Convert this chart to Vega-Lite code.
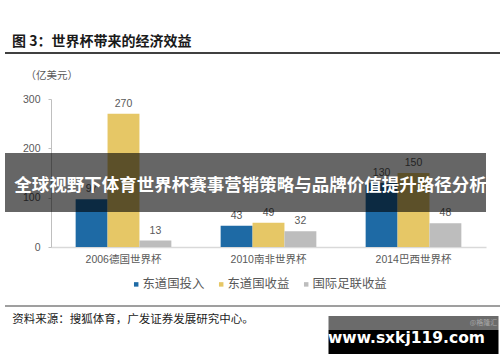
{
  "$schema": "https://vega.github.io/schema/vega-lite/v6.json",
  "padding": {"left": 4, "top": 35, "right": 0, "bottom": 0},
  "bounds": "flush",
  "spacing": 46,
  "background": "white",
  "title": {
    "text": "图 3：世界杯带来的经济效益",
    "anchor": "start",
    "dx": 8,
    "offset": 3,
    "fontSize": 14,
    "font": "Noto Sans CJK SC",
    "fontWeight": "bold",
    "color": "#1a1a1a"
  },
  "config": {"view": {"stroke": null}},
  "vconcat": [
    {
      "width": 496,
      "height": 1,
      "data": {"values": [{"line": "top"}]},
      "mark": {"type": "rule", "color": "#404040", "strokeWidth": 2},
      "encoding": {
        "y": {"datum": 0, "type": "quantitative", "scale": {"domain": [0, 1]}, "axis": null}
      }
    },
    {
      "width": 481,
      "height": 148,
      "data": {"values": [
        {"cup": "2006德国世界杯", "series": "东道国投入", "value": 97},
        {"cup": "2006德国世界杯", "series": "东道国收益", "value": 270},
        {"cup": "2006德国世界杯", "series": "国际足联收益", "value": 13},
        {"cup": "2010南非世界杯", "series": "东道国投入", "value": 43},
        {"cup": "2010南非世界杯", "series": "东道国收益", "value": 49},
        {"cup": "2010南非世界杯", "series": "国际足联收益", "value": 32},
        {"cup": "2014巴西世界杯", "series": "东道国投入", "value": 130},
        {"cup": "2014巴西世界杯", "series": "东道国收益", "value": 150},
        {"cup": "2014巴西世界杯", "series": "国际足联收益", "value": 48}
      ]},
      "layer": [
        {
          "mark": {"type": "bar"},
          "encoding": {
            "x": {"field": "cup", "type": "nominal", "sort": null,
              "scale": {"range": [46, 481], "paddingInner": 0.34, "paddingOuter": 0.17},
              "axis": {"title": null, "labelAngle": 0, "ticks": false, "domainColor": "#d9d9d9", "domainWidth": 1.5,
                "labelPadding": 7, "labelFontSize": 10.5, "labelColor": "#595959", "labelFont": "Liberation Sans, Noto Sans CJK SC"}},
            "xOffset": {"field": "series", "type": "nominal", "sort": ["东道国投入", "东道国收益", "国际足联收益"],
              "scale": {"paddingInner": 0, "paddingOuter": 0}},
            "y": {"field": "value", "type": "quantitative",
              "scale": {"domain": [0, 300], "nice": false},
              "axis": {"values": [0, 100, 200, 300], "offset": -46, "grid": false,
                "domainColor": "#bfbfbf", "tickColor": "#bfbfbf", "tickSize": 3, "labelPadding": 8,
                "labelFontSize": 10.5, "labelColor": "#595959", "labelFont": "Liberation Sans",
                "title": "（亿美元）", "titleAngle": 0, "titleAlign": "left", "titleBaseline": "middle",
                "titleX": -26, "titleY": -24, "titleFontSize": 10.5, "titleFontWeight": "normal",
                "titleColor": "#595959", "titleFont": "Noto Sans CJK SC"}},
            "color": {"field": "series", "type": "nominal",
              "scale": {"domain": ["东道国投入", "东道国收益", "国际足联收益"], "range": ["#1e6aa5", "#e6c766", "#bdbdbd"]},
              "legend": {"title": null, "orient": "none", "legendX": 125, "legendY": 226, "direction": "horizontal",
                "symbolType": "square", "symbolSize": 20, "symbolStrokeWidth": 0, "labelFontSize": 12.4,
                "labelFont": "Noto Sans CJK SC", "labelColor": "#595959", "labelOffset": 0, "columnPadding": 10, "padding": 0}}
          }
        },
        {
          "mark": {"type": "text", "baseline": "bottom", "dy": -5, "fontSize": 10.5, "font": "Liberation Sans", "color": "#595959"},
          "encoding": {
            "x": {"field": "cup", "type": "nominal", "sort": null},
            "xOffset": {"field": "series", "type": "nominal", "sort": ["东道国投入", "东道国收益", "国际足联收益"]},
            "y": {"field": "value", "type": "quantitative"},
            "text": {"field": "value", "type": "quantitative"}
          }
        },
        {
          "data": {"values": [{"band": "banner"}]},
          "mark": {"type": "rect", "color": "black", "opacity": 0.6},
          "encoding": {
            "y": {"datum": 190.5},
            "y2": {"datum": 70.9}
          }
        },
        {
          "data": {"values": [{"t": "全球视野下体育世界杯赛事营销策略与品牌价值提升路径分析"}]},
          "mark": {"type": "text", "color": "white", "fontSize": 17.5, "fontWeight": "bold", "font": "Noto Sans CJK SC", "baseline": "middle", "dx": -18},
          "encoding": {
            "x": {"datum": "2010南非世界杯"},
            "y": {"datum": 124},
            "text": {"field": "t", "type": "nominal"}
          }
        },
        {
          "data": {"values": [{"w": "strip"}]},
          "mark": {"type": "bar", "color": "#6b6b6b", "width": 170},
          "encoding": {
            "x": {"datum": "2014巴西世界杯"},
            "y": {"datum": -139.9},
            "y2": {"datum": -168.2}
          }
        },
        {
          "data": {"values": [{"w": "box"}]},
          "mark": {"type": "bar", "color": "black", "width": 170},
          "encoding": {
            "x": {"datum": "2014巴西世界杯"},
            "y": {"datum": -168.2},
            "y2": {"datum": -216.9}
          }
        },
        {
          "data": {"values": [{"t": "www.sxkj119.com"}]},
          "mark": {"type": "text", "color": "white", "fontSize": 15.5, "fontWeight": "bold", "font": "DejaVu Sans", "baseline": "middle", "dx": -7},
          "encoding": {
            "x": {"datum": "2014巴西世界杯"},
            "y": {"datum": -184.5},
            "text": {"field": "t", "type": "nominal"}
          }
        },
        {
          "data": {"values": [{"t": "@格隆汇"}]},
          "mark": {"type": "text", "color": "#a8a8a8", "fontSize": 7, "font": "Noto Sans CJK SC", "baseline": "middle", "dx": 70},
          "encoding": {
            "x": {"datum": "2014巴西世界杯"},
            "y": {"datum": -154},
            "text": {"field": "t", "type": "nominal"}
          }
        }
      ]
    },
    {
      "width": 496,
      "height": 13,
      "title": {
        "text": "资料来源：搜狐体育，广发证券发展研究中心。",
        "orient": "bottom",
        "anchor": "start",
        "dx": 8,
        "offset": 7,
        "fontSize": 11.5,
        "fontWeight": "normal",
        "font": "Noto Sans CJK SC",
        "color": "#222222"
      },
      "data": {"values": [{"line": "bottom"}]},
      "mark": {"type": "rule", "color": "#7f7f7f", "strokeWidth": 1.5},
      "encoding": {
        "y": {"datum": 0, "type": "quantitative", "scale": {"domain": [0, 1]}, "axis": null}
      }
    }
  ]
}
